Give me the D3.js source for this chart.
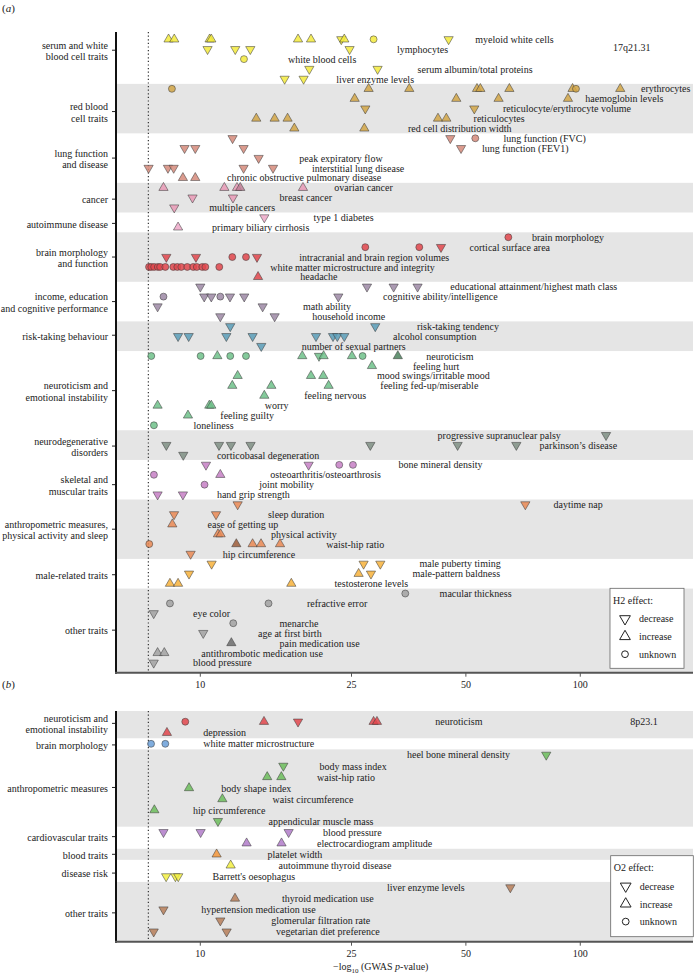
<!DOCTYPE html>
<html><head><meta charset="utf-8">
<script src="https://cdn.jsdelivr.net/npm/d3@7"></script>
<style>
body{margin:0;background:#fff}
svg{display:block}
text{font-family:"Liberation Serif","Times New Roman",serif;fill:#222}
</style>
</head><body>
<svg id="chart" width="694" height="976"></svg>
<script>
// ---------------- DATA ----------------
const xTicks = [10, 25, 50, 100];
const threshold = 7.3;

// Panel (a) – H2 haplotype, 17q21.31
const catsA = ["serum and white\nblood cell traits","red blood\ncell traits","lung function\nand disease","cancer","autoimmune disease","brain morphology\nand function","income, education\nand cognitive performance","risk-taking behaviour","neuroticism and\nemotional instability","neurodegenerative\ndisorders","skeletal and\nmuscular traits","anthropometric measures,\nphysical activity and sleep","male-related traits","other traits"];
const rowsA = [5,5,5,3,2,5,4,3,8,3,4,6,3,8];
const tickRowA = [1.1,7.3,12,16.15,18.6,22,26.5,29.9,35.5,41.1,45,49.5,54.1,59.7];
const colorsA = ["#f3ea3c","#d2a647","#d58a7a","#e99ab6","#eda8c8","#e2474c","#9c88a4","#5a9db8","#6fc18a","#7f8f84","#c67fc4","#ea8a55","#f7b23b","#a2a2a2"];
const pointsA = [
[0,8.25,"u"],[0,8.54,"u"],[0,10.58,"u"],[0,10.69,"u"],[0,18.08,"u"],[0,19.56,"u"],[0,23.5,"d"],[0,23.93,"u"],[0,28.58,"c"],[0,45.03,"d"],
[1,10.45,"d"],[1,12.36,"d"],[1,13.54,"d"],[1,24.71,"d"],
[2,13.03,"c"],
[3,19.36,"d"],[3,29.28,"d"],
[4,16.67,"d"],[4,18.7,"d"],
[5,8.42,"c"],[5,27.73,"u"],[5,35.48,"u"],[5,53.48,"u"],[5,54.58,"u"],[5,65.07,"u"],[5,95.43,"u"],[5,97.43,"c"],[5,127.4,"u"],
[6,25.48,"u"],[6,47.18,"u"],[6,60.95,"u"],[6,92.83,"u"],
[7,27.18,"d"],[7,52.61,"d"],
[8,14.04,"u"],[8,15.69,"u"],[8,16.97,"u"],[8,42.22,"u"],[8,44.41,"u"],
[9,17.68,"u"],[9,27.02,"u"],
[10,12.16,"d"],[10,45.5,"d"],[10,52.93,"c"],
[11,9.09,"d"],[11,9.7,"d"],[11,13.0,"d"],[11,48.55,"d"],
[12,14.24,"d"],
[13,7.31,"d"],[13,8.22,"d"],[13,8.51,"d"],[13,13.0,"d"],[13,15.54,"d"],
[14,9.0,"u"],[14,9.7,"u"],
[15,8.0,"u"],[15,11.57,"u"],[15,12.49,"u"],[15,12.74,"u"],[15,12.74,"u"],[15,18.63,"u"],
[16,9.54,"d"],[16,12.19,"d"],
[17,8.54,"d"],
[18,14.74,"d"],
[19,8.74,"u"],
[20,64.67,"c"],
[21,27.18,"c"],[21,37.7,"c"],[21,43.0,"d"],
[22,8.14,"d"],[22,9.74,"d"],[22,12.14,"c"],[22,13.19,"c"],[22,14.1,"d"],
[23,7.33,"c"],[23,7.43,"c"],[23,7.56,"c"],[23,7.73,"c"],[23,7.84,"c"],[23,8.09,"c"],[23,8.49,"c"],[23,8.7,"c"],[23,8.91,"c"],[23,9.24,"c"],[23,9.58,"c"],[23,9.79,"c"],[23,10.12,"c"],[23,10.31,"c"],[23,11.22,"c"],
[24,14.19,"u"],
[25,10.0,"d"],[25,27.46,"d"],[25,32.27,"d"],[25,37.31,"d"],
[26,8.0,"c"],[26,10.24,"d"],[26,10.69,"d"],[26,11.29,"c"],[26,11.97,"d"],[26,13.05,"d"],[26,23.08,"d"],
[27,7.72,"d"],[27,14.59,"d"],
[28,11.29,"d"],[28,15.69,"d"],
[29,11.99,"d"],[29,28.87,"d"],
[30,8.74,"d"],[30,9.32,"d"],[30,11.71,"d"],[30,13.73,"d"],[30,20.16,"d"],[30,22.35,"d"],[30,22.94,"d"],[30,23.93,"d"],
[31,14.47,"d"],
[32,7.43,"c"],[32,10.02,"c"],[32,11.09,"u"],[32,11.99,"c"],[32,13.19,"c"],[32,18.55,"u"],[32,20.53,"d"],[32,21.11,"u"],[32,25.07,"u"],[32,26.74,"c"],[32,33.1,"u"],[32,33.1,"u"],[32,33.1,"u"],
[33,28.3,"u"],
[34,12.54,"u"],[34,19.56,"u"],[34,21.07,"u"],
[35,12.14,"u"],[35,15.38,"u"],[35,21.76,"u"],
[36,14.74,"u"],
[37,7.72,"u"],[37,10.56,"u"],[37,10.69,"u"],
[38,9.28,"u"],
[39,7.55,"c"],
[40,116.9,"d"],
[41,8.14,"d"],[41,11.2,"d"],[41,12.04,"d"],[41,13.56,"d"],[41,28.02,"d"],[41,47.55,"d"],[41,67.88,"d"],
[42,9.02,"d"],
[43,10.35,"d"],[43,19.28,"d"],[43,23.21,"c"],[43,25.22,"c"],
[44,7.55,"c"],[44,11.29,"u"],
[45,10.26,"c"],
[46,7.72,"d"],[46,9.0,"d"],
[47,12.54,"d"],[47,71.68,"d"],
[48,8.53,"d"],[48,11.0,"d"],
[49,8.44,"u"],
[50,11.13,"u"],[50,11.31,"u"],
[51,7.34,"c"],[51,12.44,"u"],[51,12.44,"u"],[51,12.44,"u"],[51,13.73,"u"],[51,14.45,"u"],[51,16.21,"u"],
[52,9.43,"d"],
[53,10.71,"d"],[53,26.9,"d"],[53,29.77,"d"],
[54,9.34,"d"],[54,26.1,"u"],[54,28.13,"d"],
[55,8.32,"u"],[55,8.74,"u"],[55,17.36,"u"],
[56,34.63,"c"],
[57,8.32,"c"],[57,15.12,"c"],
[58,7.54,"d"],
[59,12.21,"c"],
[60,10.18,"d"],
[61,12.07,"u"],[61,12.07,"u"],[61,12.07,"u"],
[62,7.72,"u"],[62,8.04,"u"],
[63,7.54,"d"]
];
const labelsA = [
[0,52.93,"myeloid white cells"],[1,32.94,"lymphocytes"],[2,17.01,"white blood cells"],[3,37.31,"serum albumin/total proteins"],[4,22.8,"liver enzyme levels"],
[5,144.5,"erythrocytes"],[6,103.1,"haemoglobin levels"],[7,62.6,"reticulocyte/erythrocyte volume"],[8,52.38,"reticulocytes"],[9,35.2,"red cell distribution width"],
[10,62.83,"lung function (FVC)"],[11,55.12,"lung function (FEV1)"],[12,18.22,"peak expiratory flow"],[13,19.68,"interstitial lung disease"],[14,11.76,"chronic obstructive pulmonary disease"],
[15,22.52,"ovarian cancer"],[16,16.17,"breast cancer"],[17,10.56,"multiple cancers"],
[18,19.87,"type 1 diabetes"],[19,10.74,"primary biliary cirrhosis"],
[20,74.65,"brain morphology"],[21,51.13,"cortical surface area"],[22,18.22,"intracranial and brain region volumes"],[23,15.29,"white matter microstructure and integrity"],[24,18.33,"headache"],
[25,45.5,"educational attainment/highest math class"],[26,30.26,"cognitive ability/intelligence"],[27,18.63,"math ability"],[28,19.71,"household income"],
[29,37.18,"risk-taking tendency"],[30,32.15,"alcohol consumption"],[31,18.48,"number of sexual partners"],
[32,39.33,"neuroticism"],[33,36.28,"feeling hurt"],[34,29.17,"mood swings/irritable mood"],[35,29.77,"feeling fed-up/miserable"],[36,18.78,"feeling nervous"],[37,14.77,"worry"],[38,11.29,"feeling guilty"],[39,9.6,"loneliness"],
[40,42.12,"progressive supranuclear palsy"],[41,78.16,"parkinson\u2019s disease"],[42,11.06,"corticobasal degeneration"],
[43,33.26,"bone mineral density"],[44,15.29,"osteoarthritis/osteoarthrosis"],[45,14.3,"joint mobility"],[46,11.06,"hand grip strength"],
[47,85.04,"daytime nap"],[48,15.07,"sleep duration"],[49,10.45,"ease of getting up"],[50,15.35,"physical activity"],[51,21.46,"waist-hip ratio"],[52,11.45,"hip circumference"],
[53,37.77,"male puberty timing"],[54,36.2,"male-pattern baldness"],[55,22.56,"testosterone levels"],
[56,42.64,"macular thickness"],[57,19.09,"refractive error"],[58,9.57,"eye color"],[59,16.17,"menarche"],[60,14.19,"age at first birth"],[61,16.17,"pain medication use"],[62,10.06,"antithrombotic medication use"],[63,9.57,"blood pressure"]
];

// Panel (b) – O2 haplotype, 8p23.1
const catsB = ["neuroticism and\nemotional instability","brain morphology","anthropometric measures","cardiovascular traits","blood traits","disease risk","other traits"];
const rowsB = [2,1,7,2,1,2,5];
const tickRowB = [0.15,2.1,5.95,10.4,12.0,13.7,17.3];
const colorsB = ["#e2474c","#6a9fd8","#6cbd5c","#b07bc9","#f4973a","#f2ee42","#b77f5a"];
const pointsB = [
[0,9.13,"c"],[0,14.71,"u"],[0,18.08,"d"],[0,28.58,"u"],[0,29.17,"u"],
[1,8.17,"u"],
[2,7.42,"c"],[2,8.09,"c"],
[3,81.37,"d"],
[4,16.54,"d"],
[5,15.0,"u"],[5,16.34,"u"],
[6,9.34,"u"],
[7,11.43,"u"],
[8,7.57,"u"],
[9,11.13,"d"],
[10,8.0,"d"],[10,10.02,"d"],[10,17.08,"d"],
[11,13.24,"u"],[11,16.36,"u"],
[12,11.04,"u"],
[13,12.02,"u"],
[14,8.13,"d"],[14,8.6,"d"],[14,8.75,"d"],
[15,65.46,"d"],
[16,12.34,"u"],
[17,8.0,"d"],
[18,11.29,"d"],
[19,7.54,"d"],[19,11.73,"d"]
];
const labelsB = [
[0,41.53,"neuroticism"],[1,10.18,"depression"],[2,10.18,"white matter microstructure"],[3,34.99,"heel bone mineral density"],[4,20.6,"body mass index"],[5,20.28,"waist-hip ratio"],[6,11.36,"body shape index"],[7,15.5,"waist circumference"],[8,9.57,"hip circumference"],[9,15.12,"appendicular muscle mass"],[10,21.03,"blood pressure"],[11,20.28,"electrocardiogram amplitude"],[12,15.03,"platelet width"],[13,16.07,"autoimmune thyroid disease"],[14,10.77,"Barrett's oesophagus"],[15,31.0,"liver enzyme levels"],[16,16.41,"thyroid medication use"],[17,10.06,"hypertension medication use"],[18,15.38,"glomerular filtration rate"],[19,15.82,"vegetarian diet preference"]
];
const legendItems = ["decrease","increase","unknown"];

// ---------------- DRAWING ----------------
const svg = d3.select("#chart");
const x = d3.scaleLog().domain([6.0, 198]).range([116, 693]);
const fs = 10;

const symSize = {u:37, d:37, c:38};
function symPath(s, k){
  return d3.symbol().type(s === "c" ? d3.symbolCircle : d3.symbolTriangle).size(k || symSize[s])();
}

function drawPanel(cfg){
  const g = svg.append("g");
  const y = d3.scaleLinear().domain(cfg.domain).range([cfg.top, cfg.bottom]);
  const x0 = x.range()[0], x1 = x.range()[1];
  const rowCat = [];
  cfg.rows.forEach((n,i)=>{ for(let k=0;k<n;k++) rowCat.push(i); });
  // collapse coincident associations into one marker with a count
  const grouped = d3.rollups(cfg.points, v=>v.length, d=>d[0]+"|"+d[1]+"|"+d[2])
    .map(([k,n])=>{ const p=k.split("|"); return [+p[0], +p[1], p[2], n]; });
  // bands
  let start = 0;
  cfg.rows.forEach((n,i)=>{
    const y0 = i===0 ? cfg.top : y(start-0.5);
    const y1 = i===cfg.rows.length-1 ? cfg.bottom : y(start+n-0.5);
    if (i % 2 === cfg.grayParity) {
      g.append("rect").attr("x",x0).attr("y",y0).attr("width",x1-x0).attr("height",y1-y0).attr("fill","#e5e5e5");
    }
    start += n;
  });
  // threshold dotted line
  g.append("line").attr("x1",x(threshold)).attr("x2",x(threshold)).attr("y1",cfg.top).attr("y2",cfg.bottom)
    .attr("stroke","#333").attr("stroke-width",1.2).attr("stroke-dasharray","1.2,2.4");
  // category labels + ticks
  cfg.cats.forEach((c,i)=>{
    const ty = y(cfg.tickRows[i]);
    g.append("line").attr("x1",x0-4).attr("x2",x0).attr("y1",ty).attr("y2",ty).attr("stroke","#222").attr("stroke-width",1);
    const lines = c.split("\n");
    const t = g.append("text").attr("text-anchor","end").attr("font-size",fs);
    lines.forEach((ln,j)=>{
      t.append("tspan").attr("x",x0-8).attr("y", ty + (j-(lines.length-1)/2)*11.6 + 4.3).text(ln);
    });
  });
  // points
  g.selectAll("path.pt").data(grouped).join("path").attr("class","pt")
    .attr("d", d=>symPath(d[2]))
    .attr("transform", d=>`translate(${x(d[1])},${y(d[0])})` + (d[2]==="d" ? " rotate(180)" : ""))
    .attr("fill", d=>d3.color(cfg.colors[rowCat[d[0]]]).darker(0.55*(d[3]-1)).formatHex())
    .attr("fill-opacity",0.85)
    .attr("stroke","#3a3a3a").attr("stroke-opacity",0.7).attr("stroke-width",0.75);
  // trait labels
  g.selectAll("text.tl").data(cfg.labels).join("text").attr("class","tl")
    .attr("x", d=>x(d[1])).attr("y", d=>y(d[0]) + 3.6).attr("font-size",fs).text(d=>d[2]);
  // region note
  g.append("text").attr("x",x(cfg.note[1])).attr("y",y(cfg.note[0])+3.6).attr("font-size",fs).text(cfg.note[2]);
  // axes
  g.append("line").attr("x1",x0).attr("x2",x0).attr("y1",cfg.top).attr("y2",cfg.bottom+1).attr("stroke","#111").attr("stroke-width",2);
  g.append("line").attr("x1",x0-1).attr("x2",x1).attr("y1",cfg.bottom).attr("y2",cfg.bottom).attr("stroke","#555").attr("stroke-width",2);
  xTicks.forEach(v=>{
    g.append("line").attr("x1",x(v)).attr("x2",x(v)).attr("y1",cfg.bottom).attr("y2",cfg.bottom+4).attr("stroke","#555").attr("stroke-width",1);
    g.append("text").attr("x",x(v)).attr("y",cfg.bottom+15.5).attr("text-anchor","middle").attr("font-size",fs).text(v);
  });
  // panel letter
  const pl = g.append("text").attr("x",2).attr("y",cfg.letterY).attr("font-size",11);
  pl.append("tspan").text("(");
  pl.append("tspan").attr("font-style","italic").text(cfg.letter);
  pl.append("tspan").text(")");
  // legend
  const L = cfg.legend;
  g.append("rect").attr("x",L.x).attr("y",L.y).attr("width",L.w).attr("height",L.h).attr("fill","#fff").attr("stroke","#666").attr("stroke-width",0.8);
  g.append("text").attr("x",L.x+3).attr("y",L.y+15.5).attr("font-size",fs).text(L.title);
  legendItems.forEach((it,i)=>{
    const s = ["d","u","c"][i];
    const ly = L.y + 30.5 + i*17.7;
    g.append("path").attr("d", symPath(s, s==="c"?36:50))
      .attr("transform",`translate(${L.x+15},${ly})`+(s==="d"?" rotate(180)":""))
      .attr("fill","#fff").attr("stroke","#222").attr("stroke-width",1);
    g.append("text").attr("x",L.x+29).attr("y",ly+3.6).attr("font-size",fs).text(it);
  });
}

drawPanel({
  cats: catsA, rows: rowsA, tickRows: tickRowA, colors: colorsA, points: pointsA, labels: labelsA,
  domain: [-0.74, 64.0], top: 32, bottom: 672.7, grayParity: 1,
  letter: "a", letterY: 12, note: [0.85, 121.9, "17q21.31"],
  legend: {x:610, y:588.3, w:74, h:80, title:"H2 effect:"}
});
drawPanel({
  cats: catsB, rows: rowsB, tickRows: tickRowB, colors: colorsB, points: pointsB, labels: labelsB,
  domain: [-0.97, 19.91], top: 711, bottom: 941.7, grayParity: 0,
  letter: "b", letterY: 688, note: [0, 135.4, "8p23.1"],
  legend: {x:610.7, y:855.7, w:82.6, h:81, title:"O2 effect:"}
});

// x axis title
const xt = svg.append("text").attr("x",333).attr("y",970).attr("font-size",fs);
xt.append("tspan").text("\u2212log");
xt.append("tspan").attr("font-size",7).attr("dy",2.5).text("10");
xt.append("tspan").attr("dy",-2.5).text(" (GWAS ");
xt.append("tspan").attr("font-style","italic").text("p");
xt.append("tspan").text("-value)");
</script>
</body></html>
